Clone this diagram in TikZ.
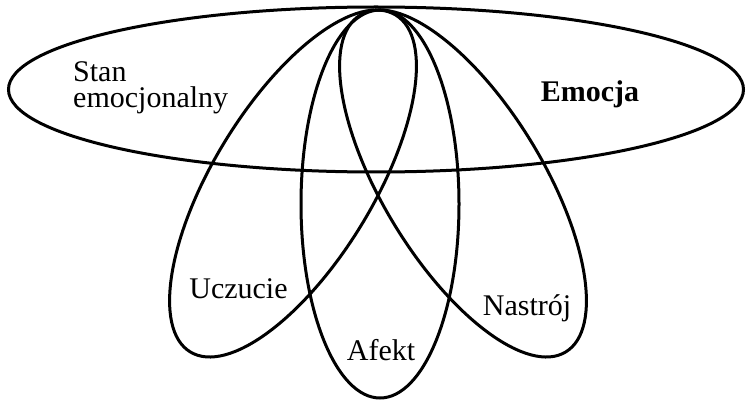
\documentclass[tikz,border=0pt]{standalone}
\usepackage{fontspec}
\setmainfont{Liberation Serif}
\begin{document}
\begin{tikzpicture}[x=1pt,y=-1pt,
  petal/.style={draw=black, line width=3pt},
  lbl/.style={inner sep=0pt, font=\fontsize{30}{26}\selectfont}]
\useasboundingbox[fill=white] (0,0) rectangle (746,406);
% big ellipse and petals
\draw[petal] (376,89.5) ellipse [x radius=367.5, y radius=82.5];
\draw[petal] (380,204) ellipse [x radius=79, y radius=194];
\draw[petal, rotate around={58.6:(293,183.5)}] (293,183.5) ellipse [x radius=197.3, y radius=80];
\draw[petal, rotate around={-58.6:(463,183.5)}] (463,183.5) ellipse [x radius=197.3, y radius=80];
% labels
\node[lbl, anchor=west, align=left] (stan) at (73,88) {Stan\\emocjonalny};
\node[lbl, anchor=base, font=\fontsize{30}{26}\selectfont\bfseries] (emocja) at (590,102) {Emocja};
\node[lbl, anchor=base] (uczucie) at (238.5,298) {Uczucie};
\node[lbl, anchor=base] (nastroj) at (527,315) {Nastrój};
\node[lbl, anchor=base] (afekt) at (381,360) {Afekt};
\end{tikzpicture}
\end{document}
